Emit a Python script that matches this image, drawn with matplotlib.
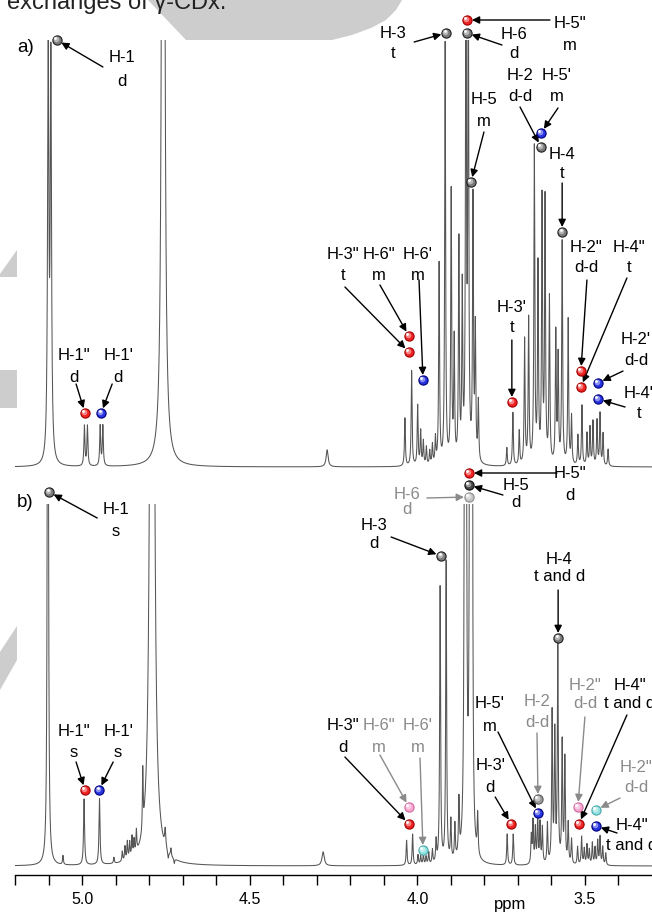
import matplotlib.pyplot as plt
import numpy as np
from matplotlib.patches import Polygon
from matplotlib.transforms import offset_copy

plt.rcParams['font.family'] = ['Liberation Sans', 'DejaVu Sans']

W, H = 652, 914

# ---- spectrum a): peak list (shift / ppm, height, half width / ppm)
a_shift = [5.101, 5.093, 4.993, 4.984, 4.946, 4.938, 4.758, 4.269,
           4.037, 4.017, 3.999, 3.990, 3.982, 3.973, 3.963, 3.955, 3.946,
           3.935, 3.917, 3.899, 3.890, 3.876, 3.866, 3.855, 3.848, 3.834,
           3.827, 3.818, 3.733, 3.715, 3.696, 3.680, 3.668, 3.651, 3.640,
           3.628, 3.619, 3.606, 3.587, 3.580, 3.568, 3.550, 3.540, 3.521,
           3.509, 3.494, 3.485, 3.476, 3.464, 3.455, 3.446, 3.431]
a_height = [420, 395, 40, 40, 40, 40, 3000, 17,
            48, 95, 60, 34, 24, 18, 14, 20, 26,
            200, 420, 270, 120, 220, 170, 520, 500, 260,
            130, 60, 18, 53, 34, 125, 145, 315, 195,
            262, 262, 165, 130, 105, 222, 145, 48, 30,
            60, 32, 38, 44, 45, 52, 32, 17]
a_width = [0.0022, 0.0022, 0.0017, 0.0017, 0.0017, 0.0017, 0.0024, 0.0035,
           0.0016, 0.0016, 0.0016, 0.0016, 0.0016, 0.0016, 0.0016, 0.0016, 0.0016,
           0.0016, 0.0016, 0.0016, 0.0016, 0.0016, 0.0016, 0.0016, 0.0016, 0.0016,
           0.0016, 0.0016, 0.0016, 0.0016, 0.0016, 0.0016, 0.0016, 0.0016, 0.0016,
           0.0016, 0.0016, 0.0016, 0.0016, 0.0016, 0.0016, 0.0016, 0.0016, 0.0016,
           0.0016, 0.0016, 0.0016, 0.0016, 0.0016, 0.0016, 0.0016, 0.0016]

# ---- spectrum b)
b_shift = [5.102, 5.057, 4.994, 4.948, 4.905, 4.880, 4.872, 4.865, 4.858,
           4.851, 4.845, 4.838, 4.819, 4.791, 4.752, 4.743, 4.735, 4.725,
           4.281, 4.032, 4.014, 3.998, 3.990, 3.982, 3.974, 3.966, 3.955,
           3.944, 3.932, 3.914, 3.900, 3.888, 3.876, 3.858, 3.855, 3.843,
           3.837, 3.820, 3.732, 3.714, 3.660, 3.655, 3.648, 3.641, 3.634,
           3.627, 3.612, 3.598, 3.590, 3.581, 3.568, 3.560, 3.550, 3.540,
           3.522, 3.510, 3.502, 3.494, 3.487, 3.478, 3.470, 3.462, 3.455,
           3.447, 3.438]
b_height = [1200, 9, 66, 66, 6, 10, 14, 18, 16,
            20, 15, 22, 60, 2000, 18, -7, 8, -5,
            14, 25, 31, 10, 9, 10, 8, 12, 14,
            22, 276, 301, 40, 35, 55, 900, 800, 800,
            900, 40, 31, 31, 28, 42, 35, 47, 40,
            36, 40, 150, 128, 216, 120, 104, 40, 25,
            18, 28, 16, 20, 15, 22, 17, 24, 28,
            18, 12]
b_width = [0.0014, 0.0015, 0.0018, 0.0018, 0.0015, 0.0015, 0.0015, 0.0015, 0.0015,
           0.0015, 0.0015, 0.0015, 0.0012, 0.0040, 0.0020, 0.0015, 0.0015, 0.0015,
           0.0040, 0.0016, 0.0016, 0.0016, 0.0016, 0.0016, 0.0016, 0.0016, 0.0016,
           0.0016, 0.0016, 0.0016, 0.0016, 0.0016, 0.0016, 0.0016, 0.0016, 0.0016,
           0.0016, 0.0016, 0.0016, 0.0016, 0.0016, 0.0016, 0.0016, 0.0016, 0.0016,
           0.0016, 0.0016, 0.0016, 0.0016, 0.0016, 0.0016, 0.0016, 0.0016, 0.0016,
           0.0016, 0.0016, 0.0016, 0.0016, 0.0016, 0.0016, 0.0016, 0.0016, 0.0016,
           0.0016, 0.0016]

# ---- assignments: label, marker position (ppm, intensity), marker kind
a_labels = ['H-1\nd', 'H-3\nt', 'H-6\nd', 'H-5"\nm', 'H-2\nd-d', "H-5'\nm",
            'H-5\nm', 'H-4\nt', 'H-3"\nt', 'H-6"\nm', "H-6'\nm", "H-3'\nt",
            'H-2"\nd-d', 'H-4"\nt', "H-2'\nd-d", "H-4'\nt", 'H-1"\nd', "H-1'\nd"]
a_ball_ppm = [5.075, 3.914, 3.852, 3.852, 3.631, 3.631, 3.840, 3.568, 4.025,
              4.025, 3.983, 3.718, 3.512, 3.512, 3.461, 3.461, 4.991, 4.943]
a_ball_int = [427, 434, 434, 447, 320, 334, 285, 235, 115,
              131, 87, 65, 96, 80, 84, 68, 54, 54]
a_ball_kind = ['gray', 'gray', 'gray', 'red', 'gray', 'blue', 'gray', 'gray', 'red',
               'red', 'blue', 'red', 'red', 'red', 'blue', 'blue', 'red', 'blue']

b_labels = ['H-1\ns', 'H-5"\nd', 'H-5\nd', 'H-6\nd', 'H-3\nd', 'H-4\nt and d',
            'H-3"\nd', 'H-6"\nm', "H-6'\nm", "H-3'\nd", "H-5'\nm", 'H-2\nd-d',
            'H-2"\nd-d', 'H-4"\nt and d', 'H-2"\nd-d', 'H-4"\nt and d',
            'H-1"\ns', "H-1'\ns"]
b_ball_ppm = [5.098, 3.846, 3.846, 3.846, 3.929, 3.580, 4.025, 4.025, 3.983,
              3.720, 3.640, 3.640, 3.521, 3.518, 3.467, 3.467, 4.991, 4.949]
b_ball_int = [374, 393, 381, 369, 310, 228, 42, 59, 16,
              42, 53, 67, 59, 42, 56, 40, 76, 76]
b_ball_kind = ['gray', 'red', 'dark', 'light', 'gray', 'gray', 'red', 'pink', 'cyan',
               'red', 'blue', 'mid', 'pink', 'red', 'cyan', 'blue', 'red', 'blue']

# label placement in pixels relative to the marker: text dx, dy, arrow tail dx, dy, line gap
a_layout = [(65, -29.5, 46, -27, 24), (-53, -10, -32, -9, 20), (47, -11, 35, -12, 19),
            (103, -15, 83, 0, 22), (-21, 61, -21, 40, 21), (16, 47, 17, 25, 21),
            (13, 71, 13, 50, 22), (0, 68, 0, 49, 19), (-66, 87, -64, 65, 21),
            (-30, 71, -29, 51, 21), (-5, 115, -4, 100, 21), (0, 84, 0, 62, 20),
            (5, 114, 6, 91, 20), (48, 130, 46, 109, 20), (38, 33, 25, 12, 21),
            (41, -5, 27, -8, 20), (-11, 47, -9, 29, 22), (17, 47, 11, 29, 22)]
b_layout = [(67, -29, 48, -26, 22), (101, -11, 88, 0, 22), (47, -9, 34, -10, 17),
            (-62, -5, -42, -1, 15), (-67, 22, -50, 19, 18), (1, 70, 0, 48, 17),
            (-66, 88, -64, 67, 22), (-30, 71, -29, 52, 22), (-5, 114, -3, 92, 22),
            (-21, 48, -16, 27, 22), (-48, 98, -40, 81, 23), (-1, 87, -1, 66, 21),
            (7, 113, 7, 90, 18), (51, 130, 48, 109, 18), (40, 33, 24, 12, 20),
            (36, -9, 21, -7, 20), (-11, 48, -9, 28, 21), (19, 48, 14, 28, 21)]

BALL = {'gray': ('#7a7a7a', '#1e1e1e'), 'dark': ('#484848', '#0e0e0e'),
        'light': ('#c6c6c6', '#8c8c8c'), 'mid': ('#9c9c9c', '#5a5a5a'),
        'red': ('#f02222', '#a00000'), 'blue': ('#2633e0', '#00007a'),
        'pink': ('#f7a6d0', '#d06aa0'), 'cyan': ('#92e0e0', '#4aa8a8')}
FAINT = ('light', 'mid', 'pink', 'cyan')
GRAY_TXT = '#8a8a8a'


def lorentz_sum(ppm, shifts, heights, widths):
    y = np.zeros_like(ppm)
    for c, h, w in zip(shifts, heights, widths):
        y += h * w ** 2 / ((ppm - c) ** 2 + w ** 2)
    return y


def ball(ax, x, y, kind):
    face, edge = BALL[kind]
    ax.scatter([x], [y], s=44, color=face, edgecolors=edge, linewidths=0.8,
               zorder=6, clip_on=False)
    hl = offset_copy(ax.transData, fig=fig, x=-0.9, y=0.9, units='dots')
    light = tuple(0.55 * np.array(plt.matplotlib.colors.to_rgb(face)) + 0.45)
    ax.scatter([x], [y], s=16, color=light, linewidths=0, transform=hl,
               zorder=7, clip_on=False)
    sp = offset_copy(ax.transData, fig=fig, x=-1.6, y=1.7, units='dots')
    ax.scatter([x], [y], s=4, color='white', linewidths=0, transform=sp,
               zorder=8, clip_on=False)


def assign(ax, x, y, text, kind, lay):
    tdx, tdy, adx, ady, gap = lay
    col = GRAY_TXT if kind in FAINT else 'black'
    lines = text.split('\n')
    n = len(lines)
    for i, s in enumerate(lines):
        off = tdy + (n - 1) / 2 * gap - i * gap
        tr = offset_copy(ax.transData, fig=fig, x=tdx, y=off, units='dots')
        ax.text(x, y, s, transform=tr, ha='center', va='center',
                fontsize=12, color=col, clip_on=False)
    ax.annotate('', xy=(x, y), xytext=(adx, ady), textcoords='offset pixels',
                arrowprops=dict(arrowstyle='-|>', color=col, lw=1.0,
                                shrinkA=0, shrinkB=3.6, mutation_scale=11),
                annotation_clip=False, zorder=5)
    ball(ax, x, y, kind)


fig = plt.figure(figsize=(W / 100, H / 100), dpi=100)
fig.patch.set_facecolor('white')

# page background showing around the figure
for pts in [[(148, 0), (402, 0), (396, 10), (386, 20), (371, 28), (352, 35),
             (332, 40), (186, 40)],
            [(0, 274), (17, 250), (17, 277), (0, 277)],
            [(0, 370), (17, 370), (17, 408), (0, 408)],
            [(0, 652), (17, 626), (17, 660), (0, 690)]]:
    fig.add_artist(Polygon([(px, H - py) for px, py in pts], closed=True,
                           facecolor='#cdcdcd', edgecolor='none',
                           transform=None, zorder=0))
fig.text(7 / W, 1 - 9 / H, 'exchanges of \u03b3-CDx.', fontsize=17,
         color='#222222', ha='left', va='baseline')

ppm = np.linspace(5.2, 3.3, 24000)

ax_a = fig.add_axes([15 / W, 1 - 472 / H, 637 / W, 432 / H])
ax_a.set_facecolor('none')
ax_a.plot(ppm, lorentz_sum(ppm, a_shift, a_height, a_width),
          color='#555555', lw=0.75)
ax_a.set_xlim(5.2, 3.3)
ax_a.set_ylim(-5, 427)
ax_a.axis('off')

ax_b = fig.add_axes([15 / W, 1 - 875 / H, 637 / W, 371 / H])
ax_b.set_facecolor('none')
ax_b.plot(ppm, lorentz_sum(ppm, b_shift, b_height, b_width),
          color='#555555', lw=0.75)
ax_b.set_xlim(5.2, 3.3)
ax_b.set_ylim(-9, 362)
for side in ('top', 'left', 'right'):
    ax_b.spines[side].set_visible(False)
ax_b.spines['bottom'].set_linewidth(1.0)
ax_b.set_yticks([])
ax_b.set_xticks([5.0, 4.5, 4.0, 3.5])
ax_b.set_xticklabels(['5.0', '4.5', '4.0', '3.5'])
ax_b.set_xticks([5.2, 5.1, 4.9, 4.8, 4.7, 4.6, 4.4, 4.3, 4.2, 4.1,
                 3.9, 3.8, 3.7, 3.6, 3.4], minor=True)
ax_b.tick_params(axis='x', which='both', direction='out', length=7, width=1,
                 labelsize=11.5, pad=5)
fig.text(510 / W, 1 - 909 / H, 'ppm', fontsize=12, ha='center', va='baseline')

fig.text(17 / W, 1 - 48 / H, 'a)', fontsize=13.5, ha='left', va='center')
fig.text(17 / W, 1 - 502 / H, 'b)', fontsize=13.5, ha='left', va='center')

for i in range(len(a_labels)):
    assign(ax_a, a_ball_ppm[i], a_ball_int[i], a_labels[i], a_ball_kind[i], a_layout[i])
for i in range(len(b_labels)):
    assign(ax_b, b_ball_ppm[i], b_ball_int[i], b_labels[i], b_ball_kind[i], b_layout[i])

fig.savefig('out.png', dpi=100)
